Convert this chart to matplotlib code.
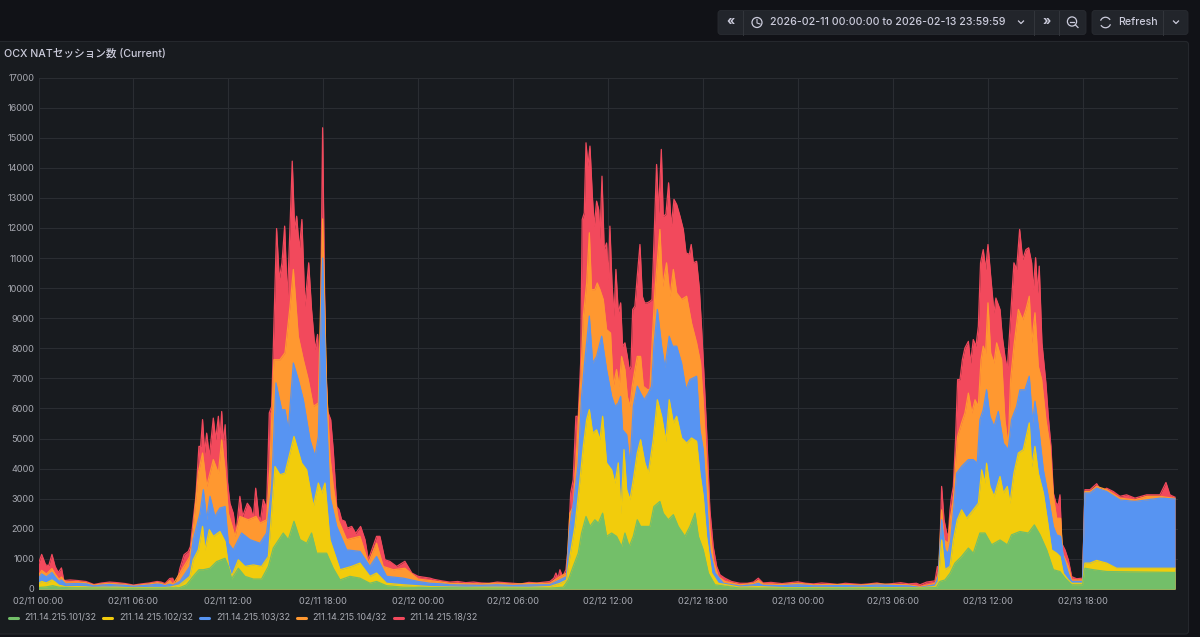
import numpy as np
import matplotlib
matplotlib.use('Agg')
import matplotlib.pyplot as plt
from matplotlib.patches import FancyBboxPatch, Circle, Arc, Rectangle

plt.rcParams['font.family'] = ['Inter', 'Noto Sans CJK JP', 'DejaVu Sans']

# stacked height of each layer, (hours since 02/11 00:00, sessions)
top_18 = [(0,850),(0.2,1150),(0.45,800),(0.65,780),(0.85,1150),(1.05,750),(1.25,550),(1.45,700),(1.6,280),(2,300),(2.5,280),(3,250),(3.5,150),(4,200),(4.5,230),(5,210),(5.5,180),(6,130),(6.5,170),(7,200),(7.5,250),(7.75,230),(8,180),(8.3,350),(8.48,360),(8.7,100),
    (8.94,690),(9.2,1140),(9.47,1250),(9.6,1410),(9.78,2300),(9.95,3080),(10.14,4740),(10.25,4740),(10.37,5630),(10.5,4520),(10.63,5180),(10.8,4400),(11.05,5680),(11.2,4960),(11.37,5740),(11.47,4960),(11.58,5900),(11.68,4850),(11.8,5460),(11.93,3630),(12.1,2850),(12.31,2520),(12.48,1850),(12.73,3080),(12.9,2410),(13.05,2630),(13.2,2850),(13.41,2690),(13.58,2360),(13.73,3350),(13.92,2410),(14.04,2300),(14.21,2970),(14.42,2690),(14.59,5850),(14.74,6070),(14.88,8730),(15.05,11980),(15.22,10290),(15.39,10840),(15.56,12060),(15.73,9620),(15.9,12060),(16.04,14220),(16.19,11950),(16.32,12390),(16.49,11280),(16.65,12280),(16.84,9400),(17.08,10840),(17.26,9290),(17.48,7960),(17.64,8460),(17.79,6740),(17.96,15330),(18.13,7850),(18.28,5900),(18.47,5630),(18.63,4630),(18.85,2740),(19,2630),(19.16,2300),(19.37,2250),(19.52,2020),(19.8,2080),(20.05,1850),(20.36,2080),(20.64,1640),(20.85,970),(21.37,1750),(21.58,1750),(21.9,970),(22.2,920),(22.64,750),(23.16,920),(23.6,530),(24,420),(24.75,360),
    (25,320),(25.5,270),(26,230),(26.5,250),(27,210),(27.5,230),(28,200),(28.5,190),(29,230),(29.5,210),(30,190),(30.5,170),(31,220),(31.5,200),(32,230),
    (32.33,250),(32.58,360),(32.71,530),(32.84,360),(32.96,640),(33.13,410),(33.34,640),(33.49,1410),(33.64,3190),(33.8,3630),(33.97,5740),(34.12,5740),(34.27,7510),(34.37,12280),(34.5,12500),(34.61,14830),(34.73,14060),(34.86,14720),(35.01,13060),(35.13,12060),(35.28,12890),(35.41,12610),(35.49,11620),(35.62,13720),(35.76,11280),(35.91,11500),(36.02,10290),(36.12,12060),(36.25,10170),(36.38,9070),(36.5,10620),(36.65,9180),(36.8,9510),(36.92,8070),(37.07,8180),(37.22,7730),(37.34,7290),(37.45,7400),(37.56,9290),(37.7,9400),(37.85,10400),(38.02,11450),(38.17,9730),(38.31,9510),(38.48,9510),(38.65,9560),(38.78,9620),(38.9,11500),(39.07,14110),(39.2,12500),(39.37,14610),(39.49,12390),(39.66,12450),(39.83,13500),(40,12060),(40.17,12950),(40.34,12780),(40.55,12390),(40.76,11950),(40.93,11170),(41.14,11120),(41.26,11450),(41.39,10840),(41.6,10890),(41.77,10010),(41.92,8620),(42.06,7180),(42.23,5290),(42.44,2630),(42.65,1410),(42.87,750),(43.08,470),(43.39,360),(43.81,250),
    (44.34,190),(44.8,190),(45.2,230),(45.5,360),(45.8,200),(46.3,220),(47,180),(47.5,210),(48,240),(48.5,190),(49,170),(49.5,200),(50,180),(50.5,150),(51,190),(51.5,170),(52,150),(52.5,170),(53,200),(53.5,150),(54,180),(54.5,210),(55,170),(55.5,190),
    (55.72,140),(56.14,230),(56.67,270),(56.82,750),(56.94,520),(57.09,3410),(57.24,2300),(57.41,1860),(57.51,1750),(57.62,2630),(57.72,3080),(57.83,3410),(57.97,4960),(58.1,6960),(58.25,6960),(58.4,7620),(58.56,8010),(58.78,8230),(58.92,7510),(59.09,8290),(59.26,8070),(59.41,8730),(59.55,10840),(59.72,11280),(59.87,10620),(60.02,11450),(60.19,10400),(60.4,9180),(60.52,9670),(60.78,9290),(60.92,8400),(61.09,7730),(61.24,7290),(61.45,9060),(61.66,10840),(61.83,10620),(62.02,11950),(62.21,10950),(62.42,11280),(62.59,11340),(62.78,10840),(62.88,9950),(63.03,11010),(63.16,9840),(63.26,10730),(63.43,8180),(63.68,6850),(63.83,5740),(64,4740),(64.15,3190),(64.32,2850),(64.46,2800),(64.57,3130),(64.68,1520),(64.89,1300),(65.1,970),(65.31,410),(65.62,340),(66,360),(66.15,3300),(66.47,3300),(66.89,3500),(67.2,3240),(67.52,3350),(67.94,3240),(68.36,3080),(68.78,3130),(69.31,3020),(70.05,3130),(70.89,3130),(71.27,3540),(71.52,3130),(71.84,3050)]

top_104 = [(0,450),(0.2,620),(0.5,500),(0.85,680),(1.05,500),(1.3,320),(1.45,400),(1.7,230),(2.5,240),(3,210),(3.5,130),(4,170),(4.5,190),(5,170),(5.5,150),(6,110),(6.5,140),(7,170),(7.5,210),(7.75,190),(8,140),(8.3,280),(8.5,150),
    (8.94,530),(9.57,1080),(9.78,1970),(10.1,3850),(10.37,4520),(10.63,3410),(11.05,4300),(11.37,3850),(11.58,4960),(11.79,3960),(12,2520),(12.42,1750),(12.73,2410),(13.26,2300),(13.75,2410),(14,2190),(14.42,2300),(14.63,4070),(14.88,7620),(15.26,7620),(15.58,7850),(15.9,9400),(16.11,10620),(16.42,8400),(16.74,7620),(17.05,6960),(17.37,6070),(17.69,6180),(17.96,12300),(18.21,6740),(18.42,4410),(18.63,3410),(18.95,2300),(19.48,1640),(20.32,1750),(20.85,860),(21.37,1520),(21.79,750),(22.43,640),(23.16,690),(24,330),(24.75,280),
    (25.5,230),(26,190),(27,175),(28,170),(29,195),(30,160),(31,185),(32,190),
    (32.33,190),(32.96,410),(33.38,530),(33.59,2520),(33.8,2740),(34.02,4630),(34.27,6850),(34.44,9070),(34.65,10170),(34.82,11840),(34.96,9950),(35.17,9950),(35.32,10170),(35.49,9950),(35.7,9620),(35.91,8620),(36.16,8510),(36.33,6740),(36.54,7290),(36.71,6740),(36.86,7730),(37.07,7290),(37.22,6400),(37.39,6070),(37.53,6740),(37.7,7290),(37.85,7730),(38.06,7730),(38.23,6740),(38.48,6630),(38.65,6630),(38.82,8510),(38.97,9950),(39.28,11950),(39.45,10060),(39.7,10840),(39.92,9730),(40.13,10620),(40.34,9840),(40.65,9620),(40.97,9730),(41.28,8840),(41.6,8180),(41.85,7510),(42.02,6180),(42.23,4190),(42.44,1970),(42.65,970),(42.97,410),(43.39,250),
    (44.34,140),(45.2,190),(45.5,280),(45.8,170),(47,150),(48,190),(49,140),(50,150),(51,150),(52,130),(53,170),(54,150),(55,140),
    (55.72,80),(56.67,190),(56.88,520),(57.09,2630),(57.24,1630),(57.51,1520),(57.62,2300),(57.83,2960),(57.97,4180),(58.1,5070),(58.35,5520),(58.56,5850),(58.78,6510),(59,5850),(59.2,6290),(59.41,6070),(59.58,7620),(59.72,8070),(59.87,7840),(60.02,9510),(60.19,7840),(60.4,7510),(60.57,8180),(60.88,7620),(61.09,5630),(61.3,4740),(61.45,6960),(61.66,8070),(61.94,9290),(62.21,8950),(62.42,9290),(62.63,9730),(62.78,8180),(62.99,9180),(63.2,7400),(63.41,6960),(63.68,5630),(63.94,4740),(64.15,3080),(64.36,2350),(64.61,2350),(64.74,1190),(65.1,750),(65.31,300),(66,300),(66.15,3240),(66.47,3240),(66.89,3410),(67.52,3300),(68.36,3020),(69.31,2960),(70.05,3080),(70.89,3080),(71.84,3010)]

top_103 = [(0,350),(0.2,500),(0.5,400),(0.85,550),(1.05,400),(1.3,250),(1.45,300),(1.7,170),(2.5,180),(3,170),(3.5,100),(4,130),(4.5,150),(5,130),(5.5,120),(6,90),(6.5,110),(7,130),(7.5,160),(7.75,150),(8,110),(8.3,160),(8.5,120),
    (8.94,250),(9.57,750),(9.78,1640),(10.21,2520),(10.42,3300),(10.63,2300),(10.84,3080),(11.15,2410),(11.47,2690),(11.79,2740),(12,1520),(12.31,1300),(12.84,1860),(13.37,1640),(14,1520),(14.42,1860),(14.74,3410),(15.01,6850),(15.37,5960),(15.58,5960),(15.79,5290),(16.11,7510),(16.42,6960),(16.74,6290),(17.16,4960),(17.48,4410),(17.69,5070),(17.96,11000),(18.21,5740),(18.42,3080),(18.85,2080),(19.48,1300),(20.32,1250),(20.95,750),(21.37,1080),(22,420),(23.06,360),(24,250),(24.75,190),
    (25.5,170),(26,140),(27,130),(28,120),(29,140),(30,115),(31,135),(32,140),
    (32.33,140),(32.96,300),(33.38,410),(33.59,2080),(33.85,2970),(34.12,4190),(34.33,6400),(34.54,7620),(34.82,9070),(35.03,7510),(35.28,7730),(35.6,8400),(35.91,7290),(36.23,6400),(36.44,6070),(36.65,6180),(36.8,6400),(36.92,5290),(37.18,5130),(37.39,4130),(37.6,6070),(37.85,6740),(38.06,6510),(38.29,6290),(38.55,6510),(38.76,6740),(38.9,8070),(39.12,9290),(39.39,8070),(39.6,7350),(39.87,8400),(40.08,8070),(40.34,8070),(40.65,7510),(40.93,6630),(41.18,6960),(41.6,7070),(41.81,5290),(42.02,4630),(42.23,2970),(42.44,1300),(42.76,530),(43.29,190),
    (44.34,100),(45.2,140),(45.5,190),(45.8,120),(47,110),(48,140),(49,105),(50,110),(51,115),(52,100),(53,130),(54,115),(55,105),
    (55.72,50),(56.67,140),(56.88,410),(57.09,2300),(57.3,1300),(57.51,1190),(57.66,1630),(57.83,2520),(58.04,3850),(58.35,4070),(58.78,4300),(59.09,4300),(59.34,4180),(59.51,5630),(59.72,5960),(59.93,6620),(60.14,5740),(60.4,5400),(60.67,5900),(60.99,4850),(61.3,4630),(61.51,5630),(61.83,6070),(62.04,6620),(62.36,6620),(62.63,7070),(62.84,5520),(62.99,6240),(63.26,5180),(63.52,3960),(63.83,3080),(64.15,2080),(64.36,1800),(64.61,1750),(64.78,1080),(65.1,520),(65.31,250),(66,250),(66.15,3190),(66.47,3190),(66.89,3350),(67.52,3240),(68.36,2960),(69.31,2910),(70.89,3020),(71.84,2990)]

top_102 = [(0,180),(0.2,250),(0.5,200),(0.85,300),(1.05,230),(1.3,120),(1.45,110),(1.7,70),(2.5,80),(3,70),(3.5,50),(4,60),(5,60),(6,40),(7,50),(8,50),(8.3,60),(8.9,130),
    (9.57,420),(9.78,970),(10.1,1300),(10.37,2080),(10.52,1300),(10.8,1970),(11.05,1750),(11.47,1910),(11.79,1580),(12,800),(12.21,420),(12.63,970),(13.05,750),(13.58,800),(14.1,750),(14.53,1080),(14.95,4070),(15.26,3800),(15.58,3850),(16.15,5070),(16.63,4190),(16.95,3960),(17.37,2740),(17.69,3520),(17.9,3190),(18.11,3520),(18.42,1640),(19.06,640),(19.79,750),(20.32,860),(20.95,420),(21.37,530),(22,190),(23.06,140),(24.75,80),
    (25.5,70),(27,55),(29,60),(31,55),
    (32.33,80),(32.96,190),(33.38,300),(33.59,1080),(33.91,2080),(34.23,3630),(34.44,4740),(34.65,5630),(34.82,5960),(35.03,5180),(35.28,5290),(35.49,4960),(35.66,5740),(35.91,4190),(36.23,3960),(36.44,3520),(36.65,4190),(36.82,2520),(37.01,4630),(37.18,3300),(37.39,2970),(37.6,3630),(37.85,4520),(38.06,4960),(38.33,4190),(38.55,3850),(38.86,4960),(39.12,6290),(39.39,5740),(39.66,4910),(39.87,6290),(40.13,5520),(40.34,5740),(40.65,5020),(40.97,4850),(41.28,5020),(41.6,4910),(41.81,3850),(42.02,3080),(42.23,1750),(42.55,530),(42.97,190),
    (44.34,60),(45.5,80),(47,45),(49,45),(51,40),(53,50),(55,40),
    (55.72,40),(56.67,80),(56.88,250),(57.09,1630),(57.3,640),(57.62,750),(57.83,1630),(58.08,2300),(58.35,2630),(58.67,2350),(59.09,2630),(59.41,2850),(59.62,3960),(59.83,3520),(59.93,4180),(60.14,3410),(60.4,3080),(60.78,3740),(60.99,3190),(61.24,3410),(61.41,2850),(61.66,3850),(61.94,4520),(62.25,4630),(62.63,5520),(62.78,4070),(62.99,4740),(63.2,3850),(63.52,3190),(63.77,2300),(64.04,1300),(64.36,1190),(64.57,1080),(64.78,520),(65.1,300),(65.31,190),(66,190),(66.15,860),(66.47,860),(66.89,950),(67.52,860),(68.15,690),(69.2,690),(71.84,690)]

top_101 = [(0,50),(0.5,70),(0.9,110),(1.3,60),(2,40),(4,30),(6,25),(8,30),(8.9,40),
    (9.36,140),(9.78,420),(10.14,640),(10.42,640),(10.84,690),(11.26,910),(11.79,1020),(12,750),(12.21,330),(12.63,690),(13.05,420),(13.58,330),(14.1,330),(14.53,750),(14.84,1360),(15.47,1860),(15.79,1640),(16.15,2250),(16.53,1640),(16.95,1520),(17.26,1860),(17.58,1190),(18.21,1190),(18.63,690),(19.06,300),(19.69,420),(20.32,360),(20.95,190),(21.37,250),(22,110),(23.06,60),(24.75,50),
    (28,30),(32.33,30),(33.17,60),(33.49,300),(33.8,750),(34.12,1190),(34.33,1860),(34.61,2410),(34.86,2080),(35.17,2300),(35.39,2190),(35.66,2520),(35.91,1750),(36.23,1860),(36.54,1750),(36.86,1410),(37.07,1860),(37.34,1410),(37.6,1750),(37.85,2300),(38.06,2080),(38.33,2080),(38.65,2080),(38.9,2740),(39.28,2910),(39.49,2520),(39.81,2300),(40.13,2470),(40.44,2080),(40.86,1750),(41.18,2080),(41.5,2520),(41.71,1750),(42.02,1300),(42.34,530),(42.76,140),(44.34,30),
    (50,25),(55.72,30),(56.77,50),(56.98,250),(57.3,300),(57.62,520),(57.93,860),(58.35,1080),(58.78,1360),(59.09,1190),(59.51,1860),(59.83,1860),(60.25,1470),(60.78,1630),(61.24,1470),(61.51,1800),(62.04,1910),(62.57,1860),(62.95,2130),(63.31,1800),(63.73,1300),(64.15,640),(64.57,580),(64.89,360),(65.31,140),(66,140),(66.15,690),(66.68,640),(67.52,580),(71.84,550)]

series_names = ['211.14.215.101/32', '211.14.215.102/32', '211.14.215.103/32', '211.14.215.104/32', '211.14.215.18/32']
series_tops = [top_101, top_102, top_103, top_104, top_18]
series_colors = ['#73BF69', '#F2CC0C', '#5794F2', '#FF9830', '#F2495C']

x_ticks = [0, 6, 12, 18, 24, 30, 36, 42, 48, 54, 60, 66]
x_labels = ['02/11 00:00', '02/11 06:00', '02/11 12:00', '02/11 18:00', '02/12 00:00', '02/12 06:00',
            '02/12 12:00', '02/12 18:00', '02/13 00:00', '02/13 06:00', '02/13 12:00', '02/13 18:00']
y_ticks = list(range(0, 18000, 1000))

W, H = 1200, 637
page_color = '#111217'
panel_color = '#181B1F'
text_color = '#CCCCDC'
tick_color = '#A8AAB2'
grid_color = '#2A2D32'
button_color = '#22252B'
divider_color = '#33363C'

fig = plt.figure(figsize=(W / 100, H / 100), dpi=100, facecolor=page_color)

# page furniture in pixel coordinates
bg = fig.add_axes([0, 0, 1, 1])
bg.set_xlim(0, W)
bg.set_ylim(H, 0)
bg.axis('off')

bg.add_patch(FancyBboxPatch((-6, 41.5), 1194.5, 592.5, boxstyle='round,pad=0,rounding_size=3',
                            fc=panel_color, ec='#25282D', lw=0.8))
bg.text(4, 53.5, 'OCX NATセッション数 (Current)', color=text_color, fontsize=7.65, fontweight='medium', va='center')

# time picker / refresh buttons
for x0, x1 in [(718, 1086), (1092, 1188)]:
    bg.add_patch(FancyBboxPatch((x0, 10.5), x1 - x0, 24, boxstyle='round,pad=0,rounding_size=3',
                                fc=button_color, ec='#292C32', lw=0.6))
for x in [743, 1034, 1059, 1163]:
    bg.plot([x, x], [10.5, 34.5], color=divider_color, lw=0.7)

bg.text(731, 22, '«', color=text_color, fontsize=9, fontweight='bold', ha='center', va='center')
bg.text(1046.5, 22, '»', color=text_color, fontsize=9, fontweight='bold', ha='center', va='center')
bg.add_patch(Circle((757, 22.5), 5, fc='none', ec=text_color, lw=0.9))
bg.plot([757, 757, 760], [19.5, 23, 24], color=text_color, lw=0.8)
bg.text(770, 22.3, '2026-02-11 00:00:00 to 2026-02-13 23:59:59', color=text_color, fontsize=7.6,
        fontweight='medium', va='center')
bg.text(1137.5, 22.3, 'Refresh', color=text_color, fontsize=7.6, fontweight='medium', va='center', ha='center')
for x in [1021, 1176]:
    bg.plot([x - 2.5, x, x + 2.5], [21, 23.5, 21], color=text_color, lw=0.9)
bg.add_patch(Circle((1072, 21.5), 4.6, fc='none', ec=text_color, lw=0.9))
bg.plot([1069.8, 1074.2], [21.5, 21.5], color=text_color, lw=0.9)
bg.plot([1075.5, 1078], [25, 27.5], color=text_color, lw=0.9)
bg.add_patch(Arc((1105.5, 22.5), 10.5, 10.5, theta1=200, theta2=330, ec=text_color, lw=0.9))
bg.add_patch(Arc((1105.5, 22.5), 10.5, 10.5, theta1=20, theta2=150, ec=text_color, lw=0.9))

# legend
legend_swatch = [8, 102, 199, 296, 393]
legend_text = [24, 119, 216, 312, 409]
for name, color, sx, tx in zip(series_names, series_colors, legend_swatch, legend_text):
    bg.plot([sx + 0.5, sx + 9.5], [618, 618], color=color, lw=2.2, solid_capstyle='round')
    bg.text(tx, 617.5, name, color=tick_color, fontsize=6.5, va='center')

# main plot
left, right, top, bottom = 38.5, 1177.5, 77.5, 589
ax = fig.add_axes([left / W, 1 - bottom / H, (right - left) / W, (bottom - top) / H])
ax.set_facecolor('none')
ax.set_xlim(0, 72)
ax.set_ylim(0, 17000)
ax.set_xticks(x_ticks)
ax.set_xticklabels(x_labels)
ax.set_yticks(y_ticks)
ax.grid(True, color=grid_color, lw=0.8)
ax.set_axisbelow(True)
ax.tick_params(length=0, labelcolor=tick_color, labelsize=6.6)
ax.tick_params(axis='x', pad=5.5)
ax.tick_params(axis='y', pad=3)
for s in ax.spines.values():
    s.set_visible(False)

# top layer first, every lower layer paints over it
for i in range(4, -1, -1):
    hours, tops = zip(*series_tops[i])
    ax.fill_between(hours, 0, tops, color=series_colors[i], lw=0, zorder=2 + (4 - i))
    ax.plot(hours, tops, color=series_colors[i], lw=0.9, zorder=2 + (4 - i))

fig.savefig('out.png', dpi=100, facecolor=page_color)
